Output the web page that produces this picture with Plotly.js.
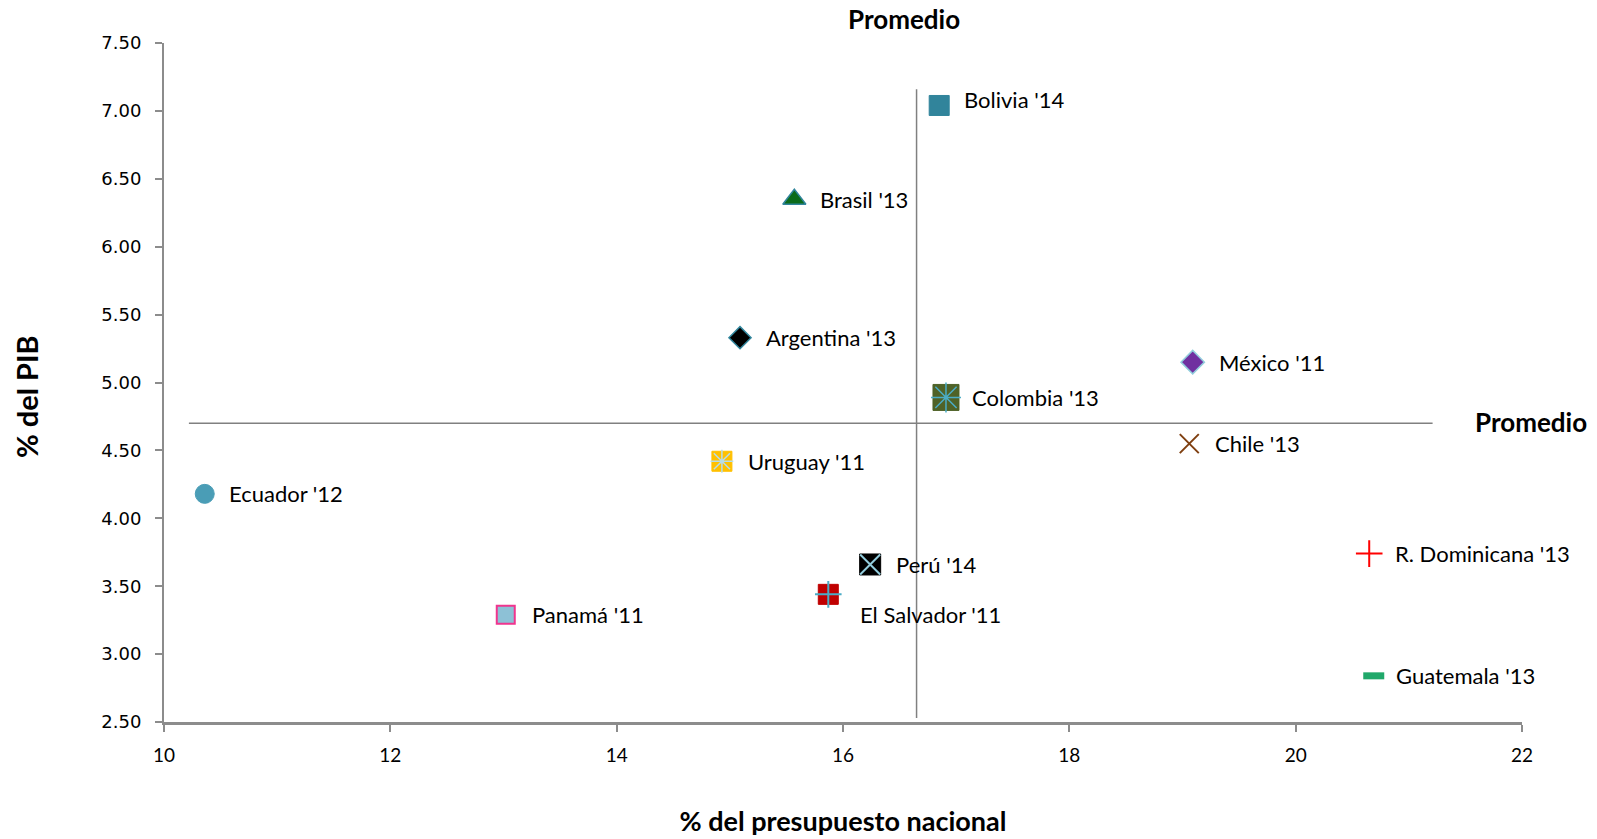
<!DOCTYPE html>
<html>
<head>
<meta charset="utf-8">
<script src="https://cdn.plot.ly/plotly-3.0.1.min.js"></script>
<style>html,body{margin:0;padding:0;background:#fff;}#chart{width:1597px;height:839px;}</style>
</head>
<body>
<div id="chart"></div>
<script>
// ---- Data ----
const countries = ["Bolivia '14","Brasil '13","Argentina '13","México '11","Colombia '13","Chile '13","Uruguay '11","Ecuador '12","Perú '14","El Salvador '11","Panamá '11","R. Dominicana '13","Guatemala '13"];
const presupuesto = [16.85, 15.57, 15.09, 19.09, 16.91, 19.06, 14.93, 10.36, 16.24, 15.87, 13.02, 20.65, 20.69];
const pib = [7.04, 6.35, 5.33, 5.15, 4.89, 4.55, 4.42, 4.18, 3.66, 3.44, 3.29, 3.74, 2.84];
const promedioPresupuesto = 16.65;
const promedioPib = 4.70;
const vLineExtent = [2.53, 7.16];
const hLineExtent = [10.22, 21.21];
const xTicks = [10, 12, 14, 16, 18, 20, 22];
const yTicks = [2.5, 3.0, 3.5, 4.0, 4.5, 5.0, 5.5, 6.0, 6.5, 7.0, 7.5];

// ---- Styles (per country) ----
const styles = {
  "Bolivia '14": {base:{symbol:'square', size:20, color:'#31849B', line:{color:'#31849B', width:1}}},
  "Brasil '13": {base:{symbol:'triangle-up', size:20, color:'#0B6B1A', line:{color:'#31859C', width:1.5}}},
  "Argentina '13": {base:{symbol:'diamond', size:17, color:'#000000', line:{color:'#31859C', width:1.5}}},
  "México '11": {base:{symbol:'diamond', size:18, color:'#7030A0', line:{color:'#92CDDC', width:1.5}}},
  "Colombia '13": {base:{symbol:'square', size:26, color:'#4F6228', line:{color:'#4F6228', width:1}},
                   over:{symbol:'asterisk-open', size:25, color:'#4BACC6', line:{color:'#4BACC6', width:1.5}}},
  "Chile '13": {base:{symbol:'x-thin-open', size:19, color:'#7F3F10', line:{color:'#7F3F10', width:2}}},
  "Uruguay '11": {base:{symbol:'square', size:20, color:'#FFC000', line:{color:'#FFC000', width:1}},
                  over:{symbol:'asterisk-open', size:19, color:'#B7DDE8', line:{color:'#B7DDE8', width:1.5}}},
  "Ecuador '12": {base:{symbol:'circle', size:19, color:'#4A9DB6', line:{color:'#4A9DB6', width:1}}},
  "Perú '14": {base:{symbol:'square', size:21, color:'#000000', line:{color:'#000000', width:1}},
               over:{symbol:'x-thin-open', size:20, color:'#93CDDD', line:{color:'#93CDDD', width:2}}},
  "El Salvador '11": {base:{symbol:'square', size:20, color:'#C00000', line:{color:'#C00000', width:1}},
                      over:{symbol:'cross-thin-open', size:19, color:'#4BACC6', line:{color:'#4BACC6', width:2}}},
  "Panamá '11": {base:{symbol:'square', size:18, color:'#8DC1D6', line:{color:'#F0358E', width:2}}},
  "R. Dominicana '13": {base:{symbol:'cross-thin-open', size:19, color:'#FF0000', line:{color:'#FF0000', width:2}}},
  "Guatemala '13": {base:{symbol:'line-ew-open', size:15, color:'#20A86A', line:{color:'#20A86A', width:7}}}
};
const labelOffsets = {"Bolivia '14":[23,6], "El Salvador '11":[30,-20], "Guatemala '13":[20,0], "Ecuador '12":[22,0]};
const defaultOffset = [24, 0];

const axisGray = '#8C8C8C';
const traces = [];

// average lines
traces.push({x:[promedioPresupuesto, promedioPresupuesto], y:vLineExtent, mode:'lines', line:{color:'#808080', width:1.5}, hoverinfo:'skip', showlegend:false});
traces.push({x:hLineExtent, y:[promedioPib, promedioPib], mode:'lines', line:{color:'#808080', width:1.5}, hoverinfo:'skip', showlegend:false});

countries.forEach((c, i) => {
  const s = styles[c];
  traces.push({x:[presupuesto[i]], y:[pib[i]], mode:'markers', name:c, showlegend:false,
    marker:{symbol:s.base.symbol, size:s.base.size, color:s.base.color, line:s.base.line}});
  if (s.over) {
    traces.push({x:[presupuesto[i]], y:[pib[i]], mode:'markers', showlegend:false, hoverinfo:'skip',
      marker:{symbol:s.over.symbol, size:s.over.size, color:s.over.color, line:s.over.line}});
  }
});

const annotations = countries.map((c, i) => {
  const off = labelOffsets[c] || defaultOffset;
  return {x:presupuesto[i], y:pib[i], xref:'x', yref:'y', text:c, showarrow:false,
    xanchor:'left', yanchor:'middle', xshift:off[0], yshift:off[1],
    font:{family:'Lato, sans-serif', size:22, color:'#000'}};
});
annotations.push({xref:'paper', yref:'paper', x:(904-164)/1358, y:1, yshift:24, text:'<b>Promedio</b>', showarrow:false,
  xanchor:'center', yanchor:'middle', font:{family:'Lato, sans-serif', size:26, color:'#000'}});
annotations.push({xref:'x', yref:'y', x:22, y:promedioPib, xshift:-49, yshift:1, text:'<b>Promedio</b>', showarrow:false,
  xanchor:'left', yanchor:'middle', font:{family:'Lato, sans-serif', size:26, color:'#000'}});
// y-axis title (placed as annotation to match the original's off-centre position)
annotations.push({xref:'paper', yref:'paper', x:0, y:(722-397)/679, xshift:-137, text:'<b>% del PIB</b>', showarrow:false,
  textangle:-90, xanchor:'center', yanchor:'middle', font:{family:'Lato, sans-serif', size:29, color:'#000'}});

const layout = {
  width:1597, height:839,
  margin:{l:164, r:75, t:43, b:117},
  paper_bgcolor:'#fff', plot_bgcolor:'#fff',
  showlegend:false,
  xaxis:{range:[10,22], tickvals:xTicks, ticktext:xTicks.map(String), showgrid:false, zeroline:false,
    showline:true, linecolor:axisGray, linewidth:3, ticks:'outside', ticklen:7, tickwidth:2, tickcolor:axisGray,
    tickfont:{family:'Lato, sans-serif', size:19, color:'#000'}, ticklabelstandoff:7,
    title:{text:'<b>% del presupuesto nacional</b>', font:{family:'Lato, sans-serif', size:27, color:'#000'}, standoff:48}},
  yaxis:{range:[2.5,7.5], tickvals:yTicks, ticktext:yTicks.map(v=>v.toFixed(2)), showgrid:false, zeroline:false,
    showline:true, linecolor:axisGray, linewidth:2, ticks:'outside', ticklen:7, tickwidth:2, tickcolor:axisGray,
    tickfont:{family:'DejaVu Sans, sans-serif', size:18, color:'#000'}, ticklabelstandoff:10},
  annotations: annotations
};

Plotly.newPlot('chart', traces, layout, {displayModeBar:false, staticPlot:true});
</script>
</body>
</html>
